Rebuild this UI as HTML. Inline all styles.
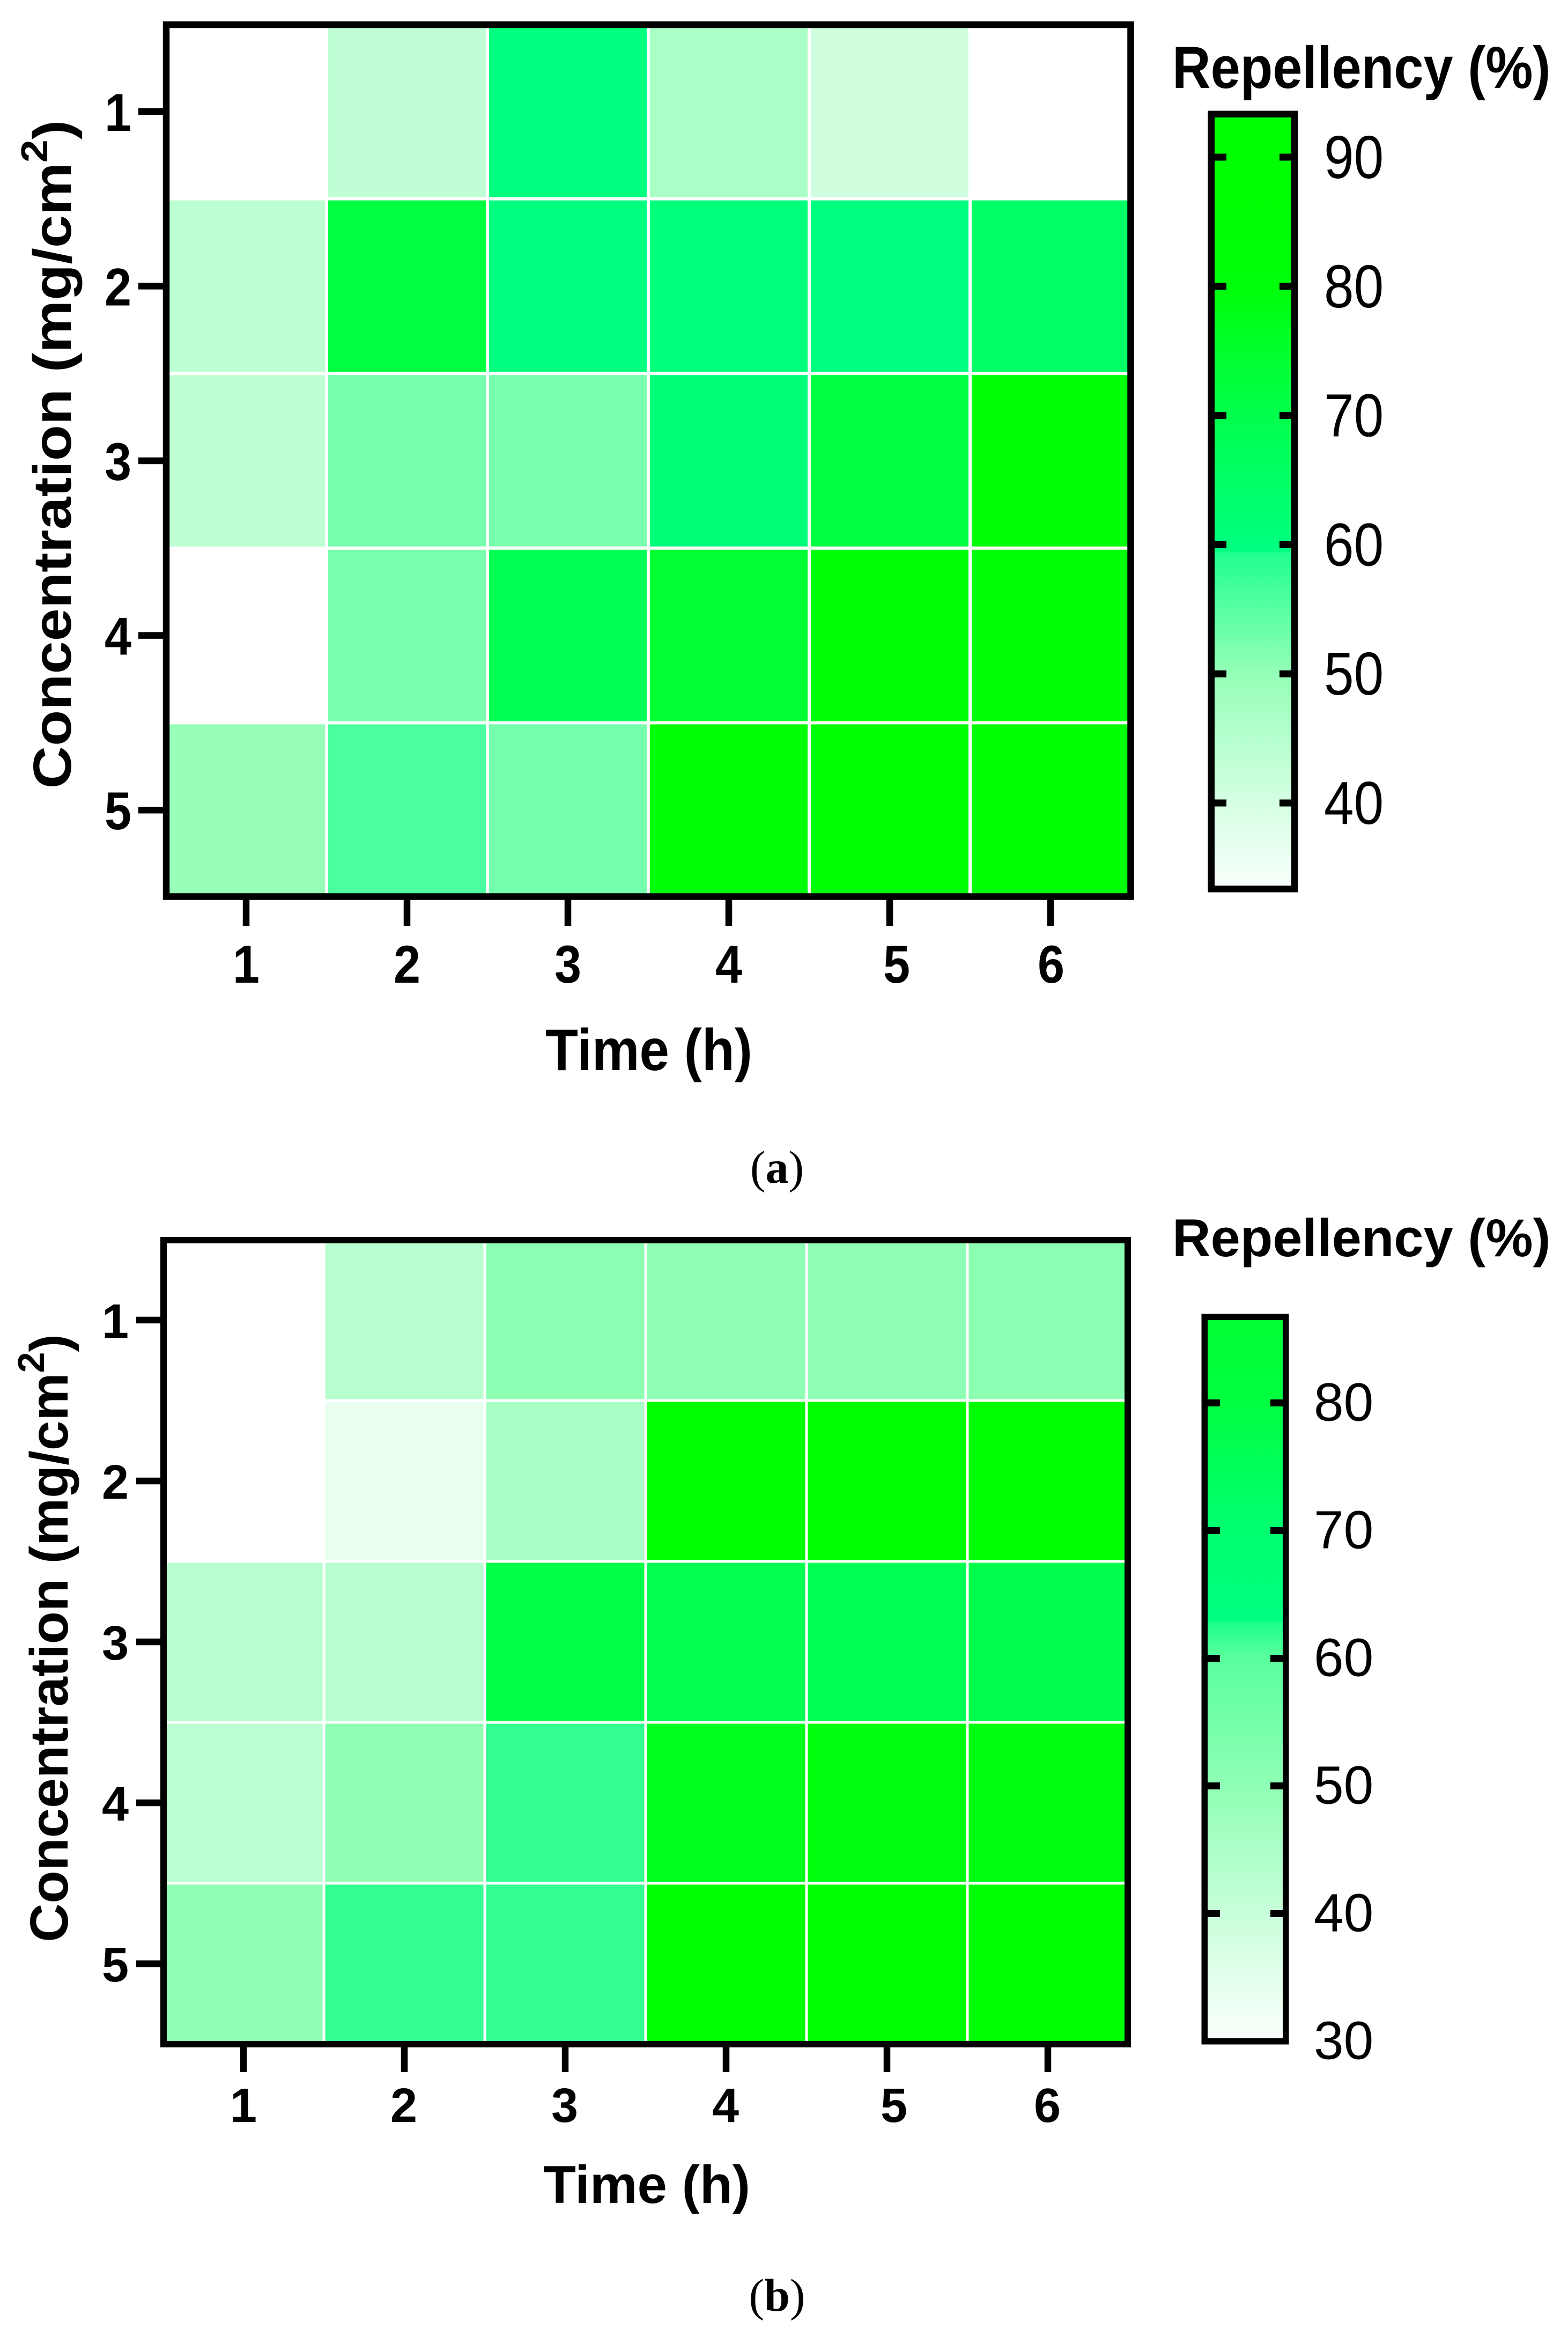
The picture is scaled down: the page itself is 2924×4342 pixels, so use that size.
<!DOCTYPE html>
<html lang="en">
<head>
<meta charset="utf-8">
<title>Repellency heatmaps</title>
<style>
html,body{margin:0;padding:0;background:#fff;}
svg{display:block;}
text{font-family:"Liberation Sans",sans-serif;fill:#000;}
</style>
</head>
<body>
<svg id="figure" xmlns="http://www.w3.org/2000/svg" width="2924" height="4342" viewBox="0 0 2924 4342">
  <rect x="0" y="0" width="2924" height="4342" fill="#ffffff"/>
  <defs id="gradients"></defs>
  <g id="panel-a"></g>
  <g id="panel-b"></g>

  <text transform="translate(1210,1995) scale(1,1.1)" text-anchor="middle" font-size="99.7" font-weight="700">Time (h)</text>
  <text transform="translate(132,847) rotate(-90) scale(1.1,1)" text-anchor="middle" font-size="100" font-weight="700">Concentration (mg/cm<tspan dy="-44" font-size="70">2</tspan><tspan dy="44">)</tspan></text>
  <text transform="translate(2186,164) scale(1,1.11)" font-size="99.2" font-weight="700">Repellency (%)</text>
  <text x="1449" y="2205" text-anchor="middle" font-size="86" style="font-family:'Liberation Serif',serif">(<tspan font-weight="700">a</tspan>)</text>

  <text x="1206" y="4107" text-anchor="middle" font-size="99.7" font-weight="700">Time (h)</text>
  <text transform="translate(126,3054) rotate(-90)" text-anchor="middle" font-size="100" font-weight="700">Concentration (mg/cm<tspan dy="-44" font-size="70">2</tspan><tspan dy="44">)</tspan></text>
  <text x="2186" y="2342" font-size="99.2" font-weight="700">Repellency (%)</text>
  <text x="1449" y="4308" text-anchor="middle" font-size="86" style="font-family:'Liberation Serif',serif">(<tspan font-weight="700">b</tspan>)</text>
</svg>
<script>
// ---- Data ----
const timeCategories = [1, 2, 3, 4, 5, 6];
const concentrationCategories = [1, 2, 3, 4, 5];

const panelAValues = [
  [33.0, 43.3, 60.0, 47.0, 40.8, 33.0],
  [44.0, 71.8, 60.0, 60.5, 60.0, 64.8],
  [43.5, 52.4, 52.2, 61.0, 71.8, 85.0],
  [33.0, 52.3, 68.2, 74.0, 85.0, 85.0],
  [49.7, 55.9, 52.7, 85.0, 86.0, 86.0]
];
const panelBValues = [
  [29.0, 43.0, 50.4, 50.2, 50.2, 50.3],
  [29.0, 33.7, 45.6, 90.0, 90.0, 90.0],
  [43.0, 43.0, 78.5, 76.7, 75.6, 77.3],
  [42.4, 49.9, 61.8, 88.0, 89.0, 89.0],
  [49.9, 61.8, 61.8, 90.0, 90.0, 90.0]
];

const panelAColorbarTicks = [90, 80, 70, 60, 50, 40];
const panelBColorbarTicks = [80, 70, 60, 50, 40];
const panelBColorbarExtraLabels = [30];

// Colormap stops: value -> red / blue channel (green is always 255)
const panelAMapValues = [33, 33.6, 40, 50, 59.4, 59.5, 70, 80, 93];
const panelAMapRed    = [255, 248, 213, 150, 32, 0, 0, 0, 0];
const panelAMapBlue   = [255, 251, 227, 184, 144, 128, 76, 10, 0];

const panelBMapValues = [29, 30, 40, 50, 60, 62.8, 62.9, 70, 80, 86.4, 90];
const panelBMapRed    = [255, 251, 200, 143, 90, 30, 0, 0, 0, 0, 0];
const panelBMapBlue   = [255, 253, 218, 180, 158, 138, 128, 112, 64, 51, 0];

// ---- Drawing ----
const NS = 'http://www.w3.org/2000/svg';

function mapColor(v, vals, red, blue) {
  if (v <= vals[0]) return 'rgb(' + red[0] + ',255,' + blue[0] + ')';
  const n = vals.length - 1;
  if (v >= vals[n]) return 'rgb(' + red[n] + ',255,' + blue[n] + ')';
  let i = 0;
  while (v > vals[i + 1]) i++;
  const t = (v - vals[i]) / (vals[i + 1] - vals[i]);
  const r = Math.round(red[i] + (red[i + 1] - red[i]) * t);
  const b = Math.round(blue[i] + (blue[i + 1] - blue[i]) * t);
  return 'rgb(' + r + ',255,' + b + ')';
}

function drawPanel(cfg) {
  const root = document.getElementById(cfg.id);
  const xBand = i => cfg.plotX + i * cfg.stepX;
  const yBand = j => cfg.plotY + j * cfg.stepY;
  const xCenter = i => xBand(i) + cfg.stepX / 2;
  const yCenter = j => yBand(j) + cfg.stepY / 2;

  // heatmap cells (outer edges run under the frame, never past it)
  cfg.values.forEach((row, j) => {
    row.forEach((v, i) => {
      const el = document.createElementNS(NS, 'rect');
      
      
      const left = i === 0 ? cfg.frame[0] : xBand(i) + cfg.gap / 2;
      const right = i === row.length - 1 ? cfg.frame[2] : xBand(i + 1) - cfg.gap / 2;
      const top = j === 0 ? cfg.frame[1] : yBand(j) + cfg.gap / 2;
      const bottom = j === cfg.values.length - 1 ? cfg.frame[3] : yBand(j + 1) - cfg.gap / 2;
      el.setAttribute('x', left);
      el.setAttribute('y', top);
      el.setAttribute('width', right - left);
      el.setAttribute('height', bottom - top);
      el.setAttribute('fill', mapColor(v, cfg.mapValues, cfg.mapRed, cfg.mapBlue));
      el.setAttribute('data-value', v);
      root.appendChild(el);
    });
  });

  // frame
  const frame = document.createElementNS(NS, 'rect');
  
  
  frame.setAttribute('x', cfg.frame[0]);
  frame.setAttribute('y', cfg.frame[1]);
  frame.setAttribute('width', cfg.frame[2] - cfg.frame[0]);
  frame.setAttribute('height', cfg.frame[3] - cfg.frame[1]);
  frame.setAttribute('fill', 'none');
  frame.setAttribute('stroke', '#000');
  frame.setAttribute('stroke-width', cfg.frameWidth);
  root.appendChild(frame);

  // x ticks + labels
  timeCategories.forEach((c, i) => {
    const tick = document.createElementNS(NS, 'line');
    
    
    tick.setAttribute('x1', xCenter(i));
    tick.setAttribute('x2', xCenter(i));
    tick.setAttribute('y1', cfg.frame[3]);
    tick.setAttribute('y2', cfg.xTickEnd);
    tick.setAttribute('stroke', '#000');
    tick.setAttribute('stroke-width', 12.5);
    root.appendChild(tick);
    const label = document.createElementNS(NS, 'text');
    
    
    label.setAttribute('transform', 'translate(' + (xCenter(i) + cfg.xLabelNudge[i]) + ',' + cfg.xLabelBase + ') scale(1,' + cfg.digitStretch + ')');
    label.setAttribute('text-anchor', 'middle');
    label.setAttribute('font-size', 90);
    label.setAttribute('font-weight', 700);
    label.textContent = c;
    root.appendChild(label);
  });

  // y ticks + labels
  concentrationCategories.forEach((c, j) => {
    const tick = document.createElementNS(NS, 'line');
    
    
    tick.setAttribute('x1', cfg.yTickEnd);
    tick.setAttribute('x2', cfg.frame[0]);
    tick.setAttribute('y1', yCenter(j));
    tick.setAttribute('y2', yCenter(j));
    tick.setAttribute('stroke', '#000');
    tick.setAttribute('stroke-width', 12.5);
    root.appendChild(tick);
    const label = document.createElementNS(NS, 'text');
    
    
    label.setAttribute('transform', 'translate(' + cfg.yLabelX + ',' + (yCenter(j) + cfg.yLabelDrop) + ') scale(1,' + cfg.digitStretch + ')');
    label.setAttribute('text-anchor', 'middle');
    label.setAttribute('font-size', 90);
    label.setAttribute('font-weight', 700);
    label.textContent = c;
    root.appendChild(label);
  });

  // colorbar
  const bar = cfg.bar;
  const barY = v => bar.y40 + (40 - v) * bar.pxPerUnit;
  const topValue = 40 + (bar.y40 - bar.top) / bar.pxPerUnit;
  const bottomValue = 40 - (bar.bottom - bar.y40) / bar.pxPerUnit;

  const grad = document.createElementNS(NS, 'linearGradient');
  grad.setAttribute('id', cfg.id + '-gradient');
  grad.setAttribute('x1', 0);
  grad.setAttribute('x2', 0);
  grad.setAttribute('y1', 1);
  grad.setAttribute('y2', 0);
  const stopVals = [bottomValue].concat(cfg.mapValues.filter(v => v > bottomValue && v < topValue), [topValue]);
  stopVals.forEach(v => {
    const s = document.createElementNS(NS, 'stop');
    s.setAttribute('offset', (v - bottomValue) / (topValue - bottomValue));
    s.setAttribute('stop-color', mapColor(v, cfg.mapValues, cfg.mapRed, cfg.mapBlue));
    grad.appendChild(s);
  });
  document.getElementById('gradients').appendChild(grad);

  const fill = document.createElementNS(NS, 'rect');
  
  
  fill.setAttribute('x', bar.left);
  fill.setAttribute('y', bar.top);
  fill.setAttribute('width', bar.right - bar.left);
  fill.setAttribute('height', bar.bottom - bar.top);
  fill.setAttribute('fill', 'url(#' + cfg.id + '-gradient)');
  root.appendChild(fill);

  cfg.barTicks.forEach(v => {
    [[bar.left, bar.left + bar.tickLen], [bar.right - bar.tickLen, bar.right]].forEach(ends => {
      const t = document.createElementNS(NS, 'line');
      
      
      t.setAttribute('x1', ends[0]);
      t.setAttribute('x2', ends[1]);
      t.setAttribute('y1', barY(v));
      t.setAttribute('y2', barY(v));
      t.setAttribute('stroke', '#000');
      t.setAttribute('stroke-width', 13);
      root.appendChild(t);
    });
  });

  const outline = document.createElementNS(NS, 'rect');
  
  
  outline.setAttribute('x', bar.left - bar.border / 2);
  outline.setAttribute('y', bar.top - bar.border / 2);
  outline.setAttribute('width', bar.right - bar.left + bar.border);
  outline.setAttribute('height', bar.bottom - bar.top + bar.border);
  outline.setAttribute('fill', 'none');
  outline.setAttribute('stroke', '#000');
  outline.setAttribute('stroke-width', bar.border);
  root.appendChild(outline);

  cfg.barTicks.concat(cfg.barExtraLabels).forEach(v => {
    const label = document.createElementNS(NS, 'text');
    
    
    label.setAttribute('transform', 'translate(' + bar.labelX + ',' + (barY(v) + bar.labelDrop) + ') scale(1,' + bar.labelStretch + ')');
    label.setAttribute('font-size', 100);
    label.textContent = v;
    root.appendChild(label);
  });
}

drawPanel({
  id: 'panel-a',
  values: panelAValues,
  mapValues: panelAMapValues, mapRed: panelAMapRed, mapBlue: panelAMapBlue,
  barTicks: panelAColorbarTicks, barExtraLabels: [],
  plotX: 309, stepX: 300, plotY: 45, stepY: 325.6, gap: 6,
  frame: [310, 46, 2108.5, 1671.5], frameWidth: 12.5,
  xTickEnd: 1726, yTickEnd: 258, xLabelBase: 1832, xLabelNudge: [0, 0, 0, 0, 13, 1],
  yLabelX: 220, yLabelDrop: 36, digitStretch: 1.1,
  bar: { left: 2265, right: 2408, top: 219, bottom: 1651, y40: 1497, pxPerUnit: 24.08, tickLen: 22, border: 12.5, labelX: 2469, labelDrop: 39, labelStretch: 1.13 }
});

drawPanel({
  id: 'panel-b',
  values: panelBValues,
  mapValues: panelBMapValues, mapRed: panelBMapRed, mapBlue: panelBMapBlue,
  barTicks: panelBColorbarTicks, barExtraLabels: panelBColorbarExtraLabels,
  plotX: 304, stepX: 300, plotY: 2311, stepY: 300, gap: 5,
  frame: [305, 2312, 2103, 3811], frameWidth: 12,
  xTickEnd: 3863, yTickEnd: 254, xLabelBase: 3956, xLabelNudge: [0, -1, -1, -1, 13, -1],
  yLabelX: 215, yLabelDrop: 33, digitStretch: 1,
  bar: { left: 2252, right: 2392, top: 2461, bottom: 3800, y40: 3567.5, pxPerUnit: 23.8, tickLen: 23, border: 11.5, labelX: 2450, labelDrop: 33, labelStretch: 1 }
});
</script>
</body>
</html>
